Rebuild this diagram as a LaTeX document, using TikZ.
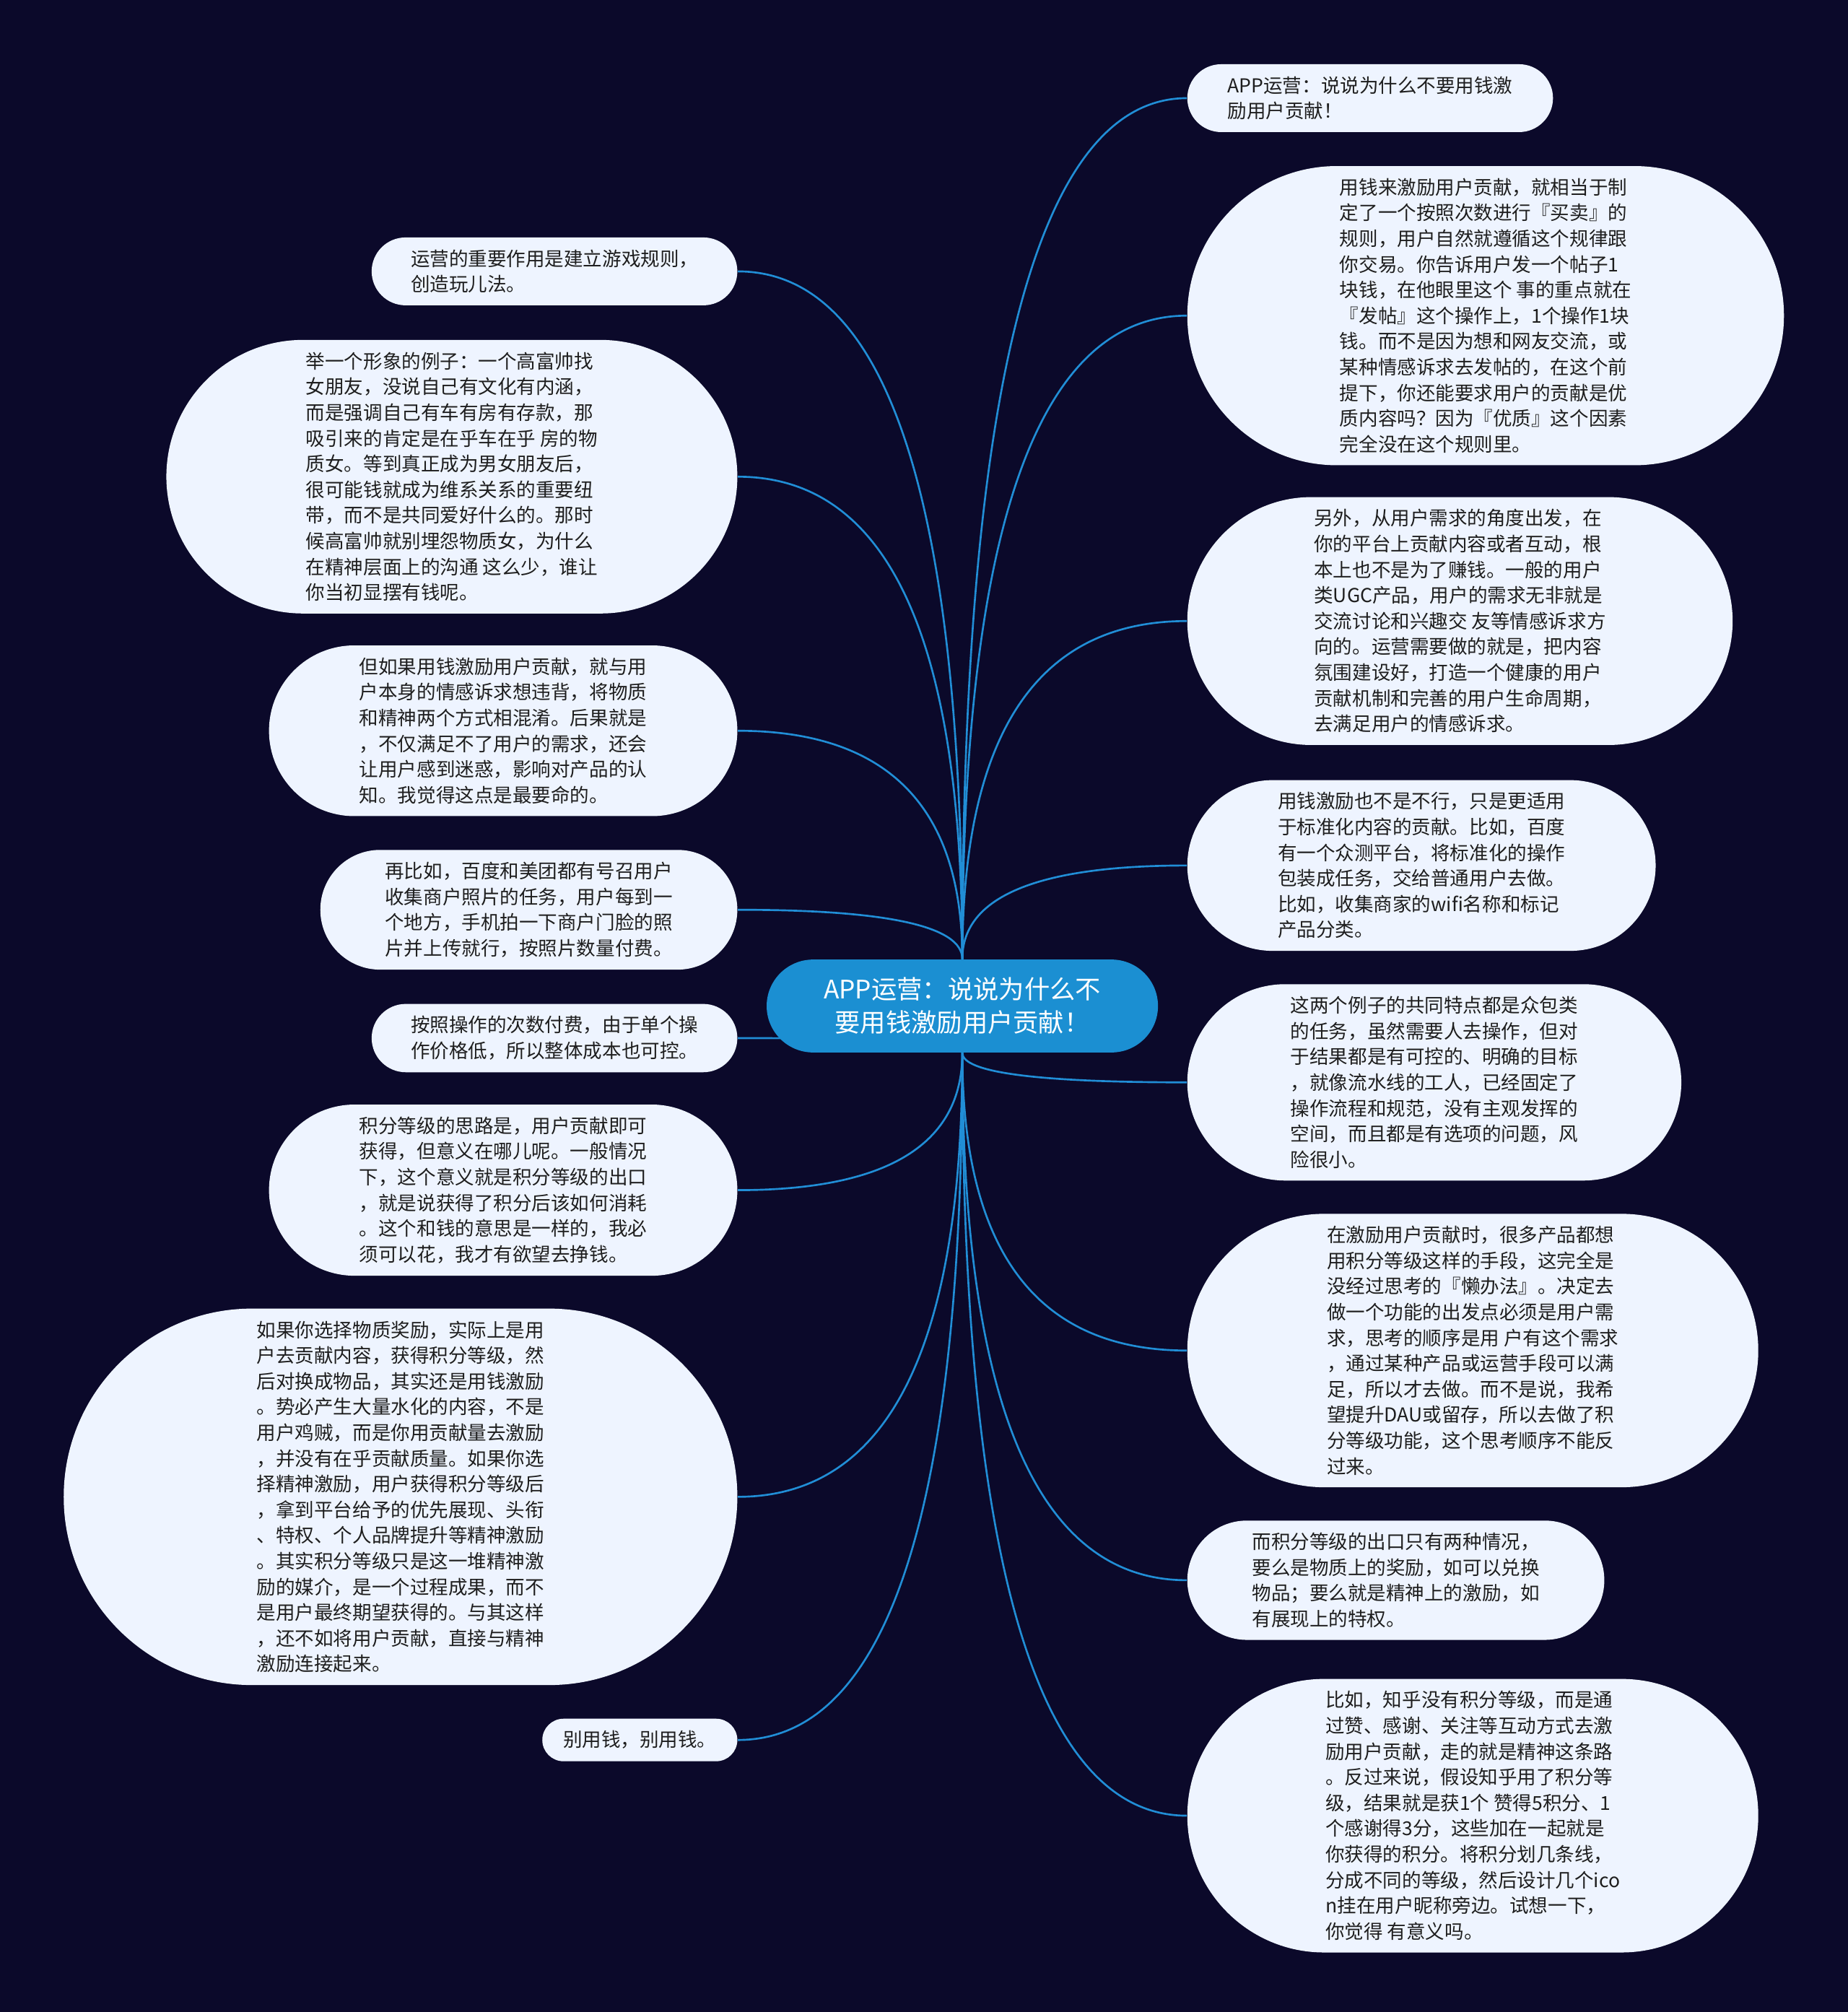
\documentclass[tikz,border=0pt]{standalone}
\usepackage{fontspec}
\usepackage{tikz}
\usetikzlibrary{shapes.misc,calc,backgrounds}
\newfontfamily\cjk{Noto Sans CJK SC}
\definecolor{bgcolor}{RGB}{11,9,42}
\definecolor{rootcolor}{RGB}{27,143,210}
\definecolor{linkcolor}{RGB}{33,142,214}
\definecolor{leafcolor}{RGB}{238,244,255}
\definecolor{leaftext}{RGB}{30,30,30}

\begin{document}
\begin{tikzpicture}[
    leafbox/.style={rounded rectangle, fill=leafcolor, text=leaftext, inner xsep=0.08cm, inner ysep=0.19cm, align=left, font=\cjk\fontsize{8.5pt}{11.4pt}\selectfont},
    rootbox/.style={rounded rectangle, fill=rootcolor, text=white, inner xsep=0.15cm, inner ysep=0.28cm, minimum width=6.4cm, align=center, font=\cjk\fontsize{11.3pt}{14.8pt}\selectfont},
    link/.style={draw=linkcolor, line width=0.85pt,
        to path={.. controls ($(\tikztostart)!2/3!(\tikztostart |- \tikztotarget)$) and ($(\tikztotarget)!2/3!(\tikztostart |- \tikztotarget)$) .. (\tikztotarget)}}
]
\useasboundingbox (0,0) rectangle (28.8,-31.36);

% Root
\node[rootbox] (root) at (15, -15.68) {APP运营：说说为什么不\\要用钱激励用户贡献！};

% Left side
\node[leafbox, anchor=east, minimum width=5.86cm] (rule) at (11.5, -4.23) {运营的重要作用是建立游戏规则，\\创造玩儿法。};

\node[leafbox, anchor=east, minimum width=9.06cm] (example) at (11.5, -7.43) {举一个形象的例子：一个高富帅找\\女朋友，没说自己有文化有内涵，\\而是强调自己有车有房有存款，那\\吸引来的肯定是在乎车在乎 房的物\\质女。等到真正成为男女朋友后，\\很可能钱就成为维系关系的重要纽\\带，而不是共同爱好什么的。那时\\候高富帅就别埋怨物质女，为什么\\在精神层面上的沟通 这么少，谁让\\你当初显摆有钱呢。};

\node[leafbox, anchor=east, minimum width=7.46cm] (confuse) at (11.5, -11.39) {但如果用钱激励用户贡献，就与用\\户本身的情感诉求想违背，将物质\\和精神两个方式相混淆。后果就是\\，不仅满足不了用户的需求，还会\\让用户感到迷惑，影响对产品的认\\知。我觉得这点是最要命的。};

\node[leafbox, anchor=east, minimum width=6.66cm] (photo) at (11.5, -14.18) {再比如，百度和美团都有号召用户\\收集商户照片的任务，用户每到一\\个地方，手机拍一下商户门脸的照\\片并上传就行，按照片数量付费。};

\node[leafbox, anchor=east, minimum width=5.86cm] (cost) at (11.5, -16.18) {按照操作的次数付费，由于单个操\\作价格低，所以整体成本也可控。};

\node[leafbox, anchor=east, minimum width=7.46cm] (points) at (11.5, -18.55) {积分等级的思路是，用户贡献即可\\获得，但意义在哪儿呢。一般情况\\下，这个意义就是积分等级的出口\\，就是说获得了积分后该如何消耗\\。这个和钱的意思是一样的，我必\\须可以花，我才有欲望去挣钱。};

\node[leafbox, anchor=east, minimum width=10.66cm] (reward) at (11.5, -23.33) {如果你选择物质奖励，实际上是用\\户去贡献内容，获得积分等级，然\\后对换成物品，其实还是用钱激励\\。势必产生大量水化的内容，不是\\用户鸡贼，而是你用贡献量去激励\\，并没有在乎贡献质量。如果你选\\择精神激励，用户获得积分等级后\\，拿到平台给予的优先展现、头衔\\、特权、个人品牌提升等精神激励\\。其实积分等级只是这一堆精神激\\励的媒介，是一个过程成果，而不\\是用户最终期望获得的。与其这样\\，还不如将用户贡献，直接与精神\\激励连接起来。};

\node[leafbox, anchor=east, minimum width=3.2cm] (nomoney) at (11.5, -27.12) {别用钱，别用钱。};

% Right side
\node[leafbox, anchor=west, minimum width=5.86cm] (title) at (18.5, -1.53) {APP运营：说说为什么不要用钱激\\励用户贡献！};

\node[leafbox, anchor=west, minimum width=9.46cm] (trade) at (18.5, -4.92) {用钱来激励用户贡献，就相当于制\\定了一个按照次数进行『买卖』的\\规则，用户自然就遵循这个规律跟\\你交易。你告诉用户发一个帖子1\\块钱，在他眼里这个 事的重点就在\\『发帖』这个操作上，1个操作1块\\钱。而不是因为想和网友交流，或\\某种情感诉求去发帖的，在这个前\\提下，你还能要求用户的贡献是优\\质内容吗？因为『优质』这个因素\\完全没在这个规则里。};

\node[leafbox, anchor=west, minimum width=8.66cm] (need) at (18.5, -9.68) {另外，从用户需求的角度出发，在\\你的平台上贡献内容或者互动，根\\本上也不是为了赚钱。一般的用户\\类UGC产品，用户的需求无非就是\\交流讨论和兴趣交 友等情感诉求方\\向的。运营需要做的就是，把内容\\氛围建设好，打造一个健康的用户\\贡献机制和完善的用户生命周期，\\去满足用户的情感诉求。};

\node[leafbox, anchor=west, minimum width=7.46cm] (standard) at (18.5, -13.49) {用钱激励也不是不行，只是更适用\\于标准化内容的贡献。比如，百度\\有一个众测平台，将标准化的操作\\包装成任务，交给普通用户去做。\\比如，收集商家的wifi名称和标记\\产品分类。};

\node[leafbox, anchor=west, minimum width=7.86cm] (crowd) at (18.5, -16.87) {这两个例子的共同特点都是众包类\\的任务，虽然需要人去操作，但对\\于结果都是有可控的、明确的目标\\，就像流水线的工人，已经固定了\\操作流程和规范，没有主观发挥的\\空间，而且都是有选项的问题，风\\险很小。};

\node[leafbox, anchor=west, minimum width=9.06cm] (lazy) at (18.5, -21.05) {在激励用户贡献时，很多产品都想\\用积分等级这样的手段，这完全是\\没经过思考的『懒办法』。决定去\\做一个功能的出发点必须是用户需\\求，思考的顺序是用 户有这个需求\\，通过某种产品或运营手段可以满\\足，所以才去做。而不是说，我希\\望提升DAU或留存，所以去做了积\\分等级功能，这个思考顺序不能反\\过来。};

\node[leafbox, anchor=west, minimum width=6.66cm] (exit) at (18.5, -24.63) {而积分等级的出口只有两种情况，\\要么是物质上的奖励，如可以兑换\\物品；要么就是精神上的激励，如\\有展现上的特权。};

\node[leafbox, anchor=west, minimum width=9.06cm] (zhihu) at (18.5, -28.30) {比如，知乎没有积分等级，而是通\\过赞、感谢、关注等互动方式去激\\励用户贡献，走的就是精神这条路\\。反过来说，假设知乎用了积分等\\级，结果就是获1个 赞得5积分、1\\个感谢得3分，这些加在一起就是\\你获得的积分。将积分划几条线，\\分成不同的等级，然后设计几个ico\\n挂在用户昵称旁边。试想一下，\\你觉得 有意义吗。};

% Background and links
\begin{pgfonlayer}{background}
\fill[bgcolor] (0,0) rectangle (28.8,-31.36);
\foreach \n in {rule,example,confuse,photo}
    \draw[link] (root.north) to (\n.east);
\foreach \n in {cost,points,reward,nomoney}
    \draw[link] (root.south) to (\n.east);
\foreach \n in {title,trade,need,standard}
    \draw[link] (root.north) to (\n.west);
\foreach \n in {crowd,lazy,exit,zhihu}
    \draw[link] (root.south) to (\n.west);
\end{pgfonlayer}

\end{tikzpicture}
\end{document}
